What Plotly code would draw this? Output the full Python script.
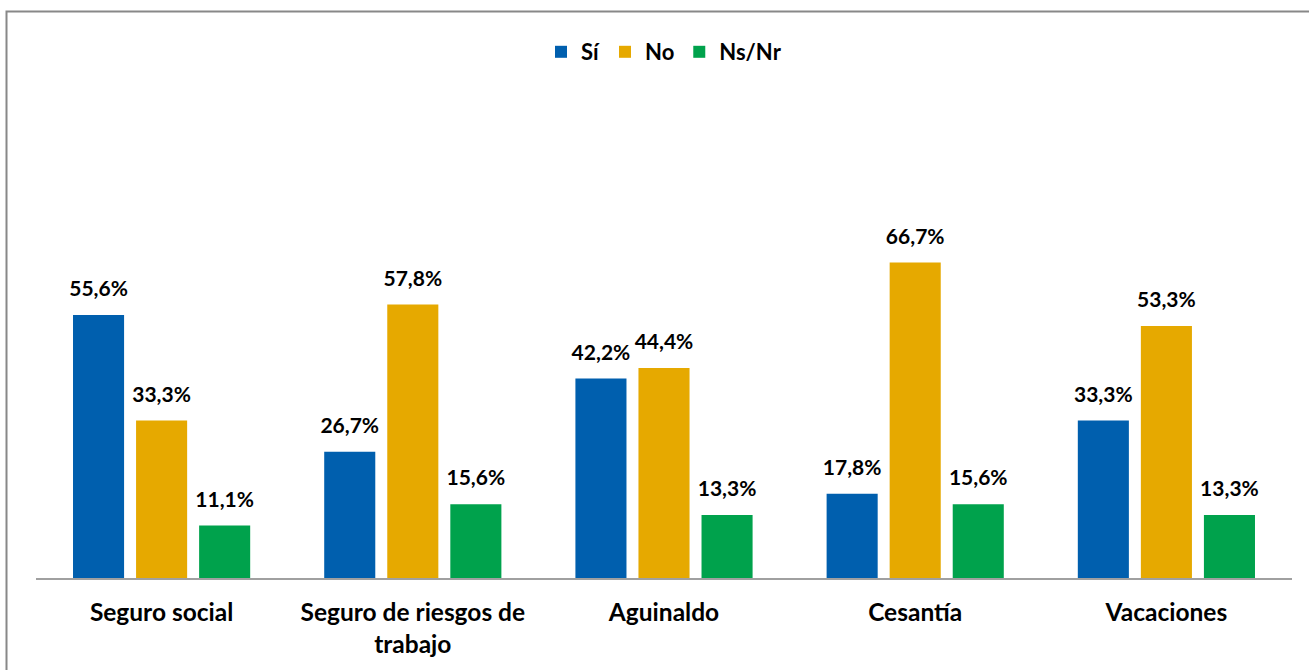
import plotly.graph_objects as go

categories = ["Seguro social", "Seguro de riesgos de<br>trabajo", "Aguinaldo", "Cesantía", "Vacaciones"]
series_names = ["Sí", "No", "Ns/Nr"]
si_values = [55.6, 26.7, 42.2, 17.8, 33.3]
no_values = [33.3, 57.8, 44.4, 66.7, 53.3]
nsnr_values = [11.1, 15.6, 13.3, 15.6, 13.3]
colors = ["#005fae", "#e6a900", "#00a24c"]

FONT = "Lato, 'Open Sans', sans-serif"

fig = go.Figure()
all_vals = [si_values, no_values, nsnr_values]
for i, (name, vals, col) in enumerate(zip(series_names, all_vals, colors)):
    fig.add_trace(go.Bar(
        x=categories, y=vals, name=name, offsetgroup=str(i),
        marker=dict(color=col, line=dict(width=0)),
    ))
for i, vals in enumerate(all_vals):
    fig.add_trace(go.Scatter(
        x=categories, y=vals, mode="markers+text", offsetgroup=str(i),
        marker=dict(size=20, opacity=0), showlegend=False, hoverinfo="skip",
        texttemplate="%{y:.1f}%", textposition="top center",
        textfont=dict(family=FONT, size=21, color="black", weight="bold"),
        cliponaxis=False,
    ))

fig.update_layout(
    width=1309, height=670,
    separators=",.",
    paper_bgcolor="white", plot_bgcolor="white",
    margin=dict(l=36, r=17, t=105, b=92, autoexpand=False),
    barmode="group", bargap=0.247, bargroupgap=0.19,
    scattermode="group", scattergap=0.247,
    font=dict(family=FONT, color="black"),
    showlegend=True,
    legend=dict(orientation="h", x=0.5, xanchor="center", y=(578 - 52) / 473, yanchor="middle",
                bgcolor="rgba(0,0,0,0)",
                font=dict(family=FONT, size=22, weight="bold"),
                itemwidth=30, traceorder="normal"),
    xaxis=dict(showline=True, linecolor="#a0a0a0", linewidth=2,
               ticks="outside", ticklen=12, tickcolor="rgba(0,0,0,0)",
               tickfont=dict(family=FONT, size=24.5, weight="bold", color="black"),
               showgrid=False),
    yaxis=dict(range=[0, 100], visible=False, showgrid=False, zeroline=False),
    shapes=[dict(type="rect", xref="paper", yref="paper",
                 x0=(6.5 - 36) / 1256, x1=1.2, y0=-0.5, y1=(578 - 11.5) / 473,
                 line=dict(color="#888888", width=2), fillcolor="rgba(0,0,0,0)", layer="below")],
)

fig.write_html("out.html", config={"displayModeBar": False},
               post_script="document.body.style.margin='0';")
